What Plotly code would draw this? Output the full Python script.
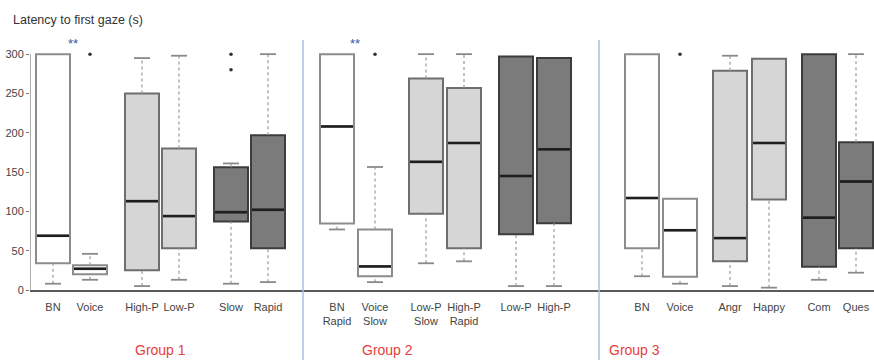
import plotly.graph_objects as go

# ---- data ----
tick_labels = ["BN", "Voice", "High-P", "Low-P", "Slow", "Rapid",
               "BN<br>Rapid", "Voice<br>Slow", "Low-P<br>Slow", "High-P<br>Rapid", "Low-P", "High-P",
               "BN", "Voice", "Angr", "Happy", "Com", "Ques"]
lower_whisker = [8, 13, 5, 13, 8, 10,
                 77, 10, 34, 36.5, 5, 5,
                 17.5, 8, 5, 3, 13, 22]
q1 = [34, 20, 25, 53, 87, 53,
      84.5, 17.5, 97, 53, 71, 85,
      53, 17, 36.5, 115, 29.5, 53]
median = [69, 27, 113, 94, 99, 102,
          208, 30, 163, 187, 145, 179,
          117, 76, 66, 187, 92, 138]
q3 = [300, 31.5, 250, 180, 156, 197,
      300, 77, 269, 257, 297, 295,
      300, 116, 279, 294, 300, 188]
upper_whisker = [300, 46, 295, 298, 161, 300,
                 300, 156.5, 300, 300, 297, 295,
                 300, 116, 298, 294, 300, 300]
outlier_idx = [1, 4, 4, 7, 13]
outlier_val = [300, 300, 280, 300, 300]
groups = ["Group 1", "Group 2", "Group 3"]
y_ticks = [0, 50, 100, 150, 200, 250, 300]

# ---- layout / style ----
positions = [23, 60, 112, 149, 201, 238,
             307, 345, 396, 434, 486, 524,
             612, 650, 700, 739, 789, 826]
style_kind = [0, 0, 1, 1, 2, 2] * 3
fills = ["#ffffff", "#d6d6d6", "#7b7b7b"]
outlines = ["#8c8c8c", "#6e6e6e", "#3c3c3c"]
box_w = 34
cap_w = 16

fig = go.Figure()

for i, x in enumerate(positions):
    k = style_kind[i]
    # whiskers (dotted)
    for a, b in [(q3[i], upper_whisker[i]), (lower_whisker[i], q1[i])]:
        if abs(b - a) > 0.5:
            fig.add_trace(go.Scatter(x=[x, x], y=[a, b], mode="lines",
                                     line=dict(color="#9a9a9a", width=1.2, dash="dot"),
                                     hoverinfo="skip", showlegend=False))
    # caps
    for v, ref in [(upper_whisker[i], q3[i]), (lower_whisker[i], q1[i])]:
        if abs(v - ref) > 0.5:
            fig.add_trace(go.Scatter(x=[x - cap_w / 2, x + cap_w / 2], y=[v, v], mode="lines",
                                     line=dict(color="#8a8a8a", width=1.8),
                                     hoverinfo="skip", showlegend=False))
    # box
    fig.add_trace(go.Box(x=[x], q1=[q1[i]], median=[median[i]], q3=[q3[i]],
                         lowerfence=[q1[i]], upperfence=[q3[i]],
                         width=box_w, whiskerwidth=0,
                         fillcolor=fills[k], line=dict(color=outlines[k], width=2),
                         showlegend=False, hoverinfo="skip"))
    # median (darker, thicker)
    fig.add_trace(go.Scatter(x=[x - box_w / 2 + 1, x + box_w / 2 - 1], y=[median[i], median[i]],
                             mode="lines", line=dict(color="#1e1e1e", width=2.6),
                             hoverinfo="skip", showlegend=False))

# outliers
fig.add_trace(go.Scatter(x=[positions[j] for j in outlier_idx], y=outlier_val, mode="markers",
                         marker=dict(color="#333333", size=3.5),
                         hoverinfo="skip", showlegend=False))

fig.update_layout(
    width=874, height=360,
    margin=dict(l=30, r=0, t=40, b=70, autoexpand=False),
    paper_bgcolor="white", plot_bgcolor="white",
    font=dict(family="Liberation Sans, Arial, sans-serif", size=11, color="#444"),
    xaxis=dict(range=[0, 844], tickmode="array", tickvals=positions, ticktext=tick_labels,
               showgrid=False, zeroline=False, showline=True, linecolor="#5a5a5a", linewidth=1.5,
               ticks="outside", ticklen=6, tickcolor="rgba(0,0,0,0)", automargin=False,
               tickfont=dict(size=11, color="#444")),
    yaxis=dict(range=[0, 318], tickmode="array", tickvals=y_ticks, showgrid=False, zeroline=False,
               showline=False, ticks="outside", ticklen=3, tickcolor="#777", automargin=False,
               tickfont=dict(size=11, color="#444")),
)

# y axis line up to 300
fig.add_shape(type="line", xref="x", yref="y", x0=0, x1=0, y0=0, y1=300,
              line=dict(color="#777", width=1.2))

# group dividers
for xd in [273, 569]:
    fig.add_shape(type="line", xref="x", yref="paper", x0=xd, x1=xd, y0=-0.3, y1=1.0,
                  line=dict(color="#a9bfe4", width=1.5))

# title
fig.add_annotation(text="Latency to first gaze (s)", xref="paper", yref="paper",
                   x=-0.022, y=1.08, xanchor="left", yanchor="middle", showarrow=False,
                   font=dict(size=12.5, color="#333"))

# significance marks
for xs in [43, 325]:
    fig.add_annotation(text="**", x=xs, y=313, xref="x", yref="y", showarrow=False,
                       font=dict(size=13, color="#3a56a8"))

# group labels
for gx, g, anc in zip([130, 357, 577], groups, ["center", "center", "left"]):
    fig.add_annotation(text=g, x=gx, y=-0.24, xref="x", yref="paper", xanchor=anc,
                       yanchor="middle", showarrow=False, font=dict(size=14, color="#e8403a"))

fig.write_html("out.html", config={"displayModeBar": False},
               post_script="document.body.style.margin='0';document.body.style.overflow='hidden';")
